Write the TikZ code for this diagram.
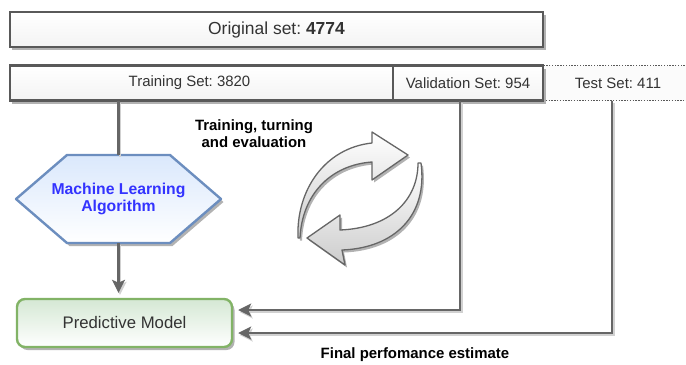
\documentclass[tikz,border=0pt]{standalone}
\usepackage{fontspec}
\setmainfont{Liberation Sans}
\usetikzlibrary{arrows.meta, positioning, shadows, backgrounds}
\frenchspacing

\definecolor{boxline}{HTML}{595959}
\definecolor{wireline}{HTML}{666666}
\definecolor{labeltext}{HTML}{333333}
\definecolor{algoline}{HTML}{6C8EBF}
\definecolor{algofill}{HTML}{DAE8FC}
\definecolor{algotext}{HTML}{3333FF}
\definecolor{modelline}{HTML}{82B366}
\definecolor{modelfill}{HTML}{D5E8D4}

\begin{document}
\begin{tikzpicture}[
  x=1bp, y=-1bp,
  boxshadow/.style={drop shadow={shadow xshift=2.5bp, shadow yshift=-3bp, opacity=0.3, fill=black}},
  box/.style={rectangle, draw=boxline, line width=2.4bp, top color=white, bottom color=gray!9, minimum height=35bp, inner sep=0pt, outer sep=0pt, text=labeltext, font=\fontsize{15}{17}\selectfont, boxshadow},
  testbox/.style={rectangle, draw=gray!70!black, line width=1.6bp, dash pattern=on 1.4bp off 1.4bp, fill=gray!3, minimum height=35bp, minimum width=150bp, inner sep=0pt, outer sep=0pt, text=labeltext, font=\fontsize{15}{17}\selectfont},
  algo/.style={rectangle, minimum width=205bp, minimum height=88bp, inner sep=0pt, outer sep=0pt, align=center, text=algotext, font=\fontsize{15.8}{17.5}\selectfont\bfseries},
  hexa/.style={draw=algoline, line width=2.4bp, top color=algofill, bottom color=white, line join=round, boxshadow},
  model/.style={rectangle, rounded corners=8bp, draw=modelline, line width=2.4bp, top color=modelfill, bottom color=white, minimum width=215bp, minimum height=48bp, text=labeltext, font=\fontsize{16.8}{19}\selectfont, boxshadow},
  note/.style={align=center, font=\fontsize{15}{17}\selectfont\bfseries},
  wire/.style={draw=wireline, line width=2.4bp, preaction={draw=black!18, line width=2.4bp, transform canvas={shift={(1.5bp,-2bp)}}}},
  arr/.style={wire, -{Stealth[length=13bp, width=13bp, inset=3bp]}, shorten >=5bp},
  loopshape/.style={draw=gray!80!black, line width=1.3bp, top color=white, bottom color=gray!40, line join=round, drop shadow={shadow xshift=2bp, shadow yshift=-2.5bp, opacity=0.3, fill=black}}
]
\useasboundingbox (0,0) rectangle (686,364);

% data split
\node[testbox] (test) at (618,83) {Test Set: 411};
\node[box, minimum width=533bp, font=\fontsize{17.5}{20}\selectfont] (orig) at (276.5,29.5) {Original set: \textbf{4774}};
\node[box, minimum width=383bp] (train) at (201.5,83) {\hspace*{-24bp}Training Set: 3820};
\node[box, minimum width=150bp, right=0pt of train] (valid) {Validation Set: 954};

% learner and model
\node[algo] (mla) at (118.5,199) {Machine Learning\\Algorithm};
\begin{scope}[on background layer]
  \path[hexa] (mla.west) -- ([xshift=51bp]mla.north west) -- ([xshift=-51bp]mla.north east)
    -- (mla.east) -- ([xshift=-51bp]mla.south east) -- ([xshift=51bp]mla.south west) -- cycle;
\end{scope}
\node[model] (pm) at (124.5,323) {Predictive Model};

\node[note] (loop) at (254,134) {Training, turning\\and evaluation};
\node[note] (final) at (415,355) {Final perfomance estimate};

\draw[wire] (mla.north |- train.south) -- (mla.north);
\draw[arr] (mla.south) -- (mla.south |- pm.north);
\draw[arr] ([xshift=-8bp]valid.south) |- ([yshift=13bp]pm.east);
\draw[arr] ([xshift=-6bp]test.south) |- ([yshift=-10bp]pm.east);

% refresh arrows
\path[loopshape] (298,238) .. controls (296,190) and (325,148) .. (372,143)
  -- (372,132) -- (408,155) -- (372,180) -- (372,162)
  .. controls (330,165) and (302,195) .. (300,238) -- cycle;
\path[loopshape] (421,163) .. controls (428,215) and (395,248) .. (342,250)
  -- (345,265) -- (307,238) -- (340,215) -- (340,230)
  .. controls (390,228) and (418,200) .. (418,163) -- cycle;
\end{tikzpicture}
\end{document}
